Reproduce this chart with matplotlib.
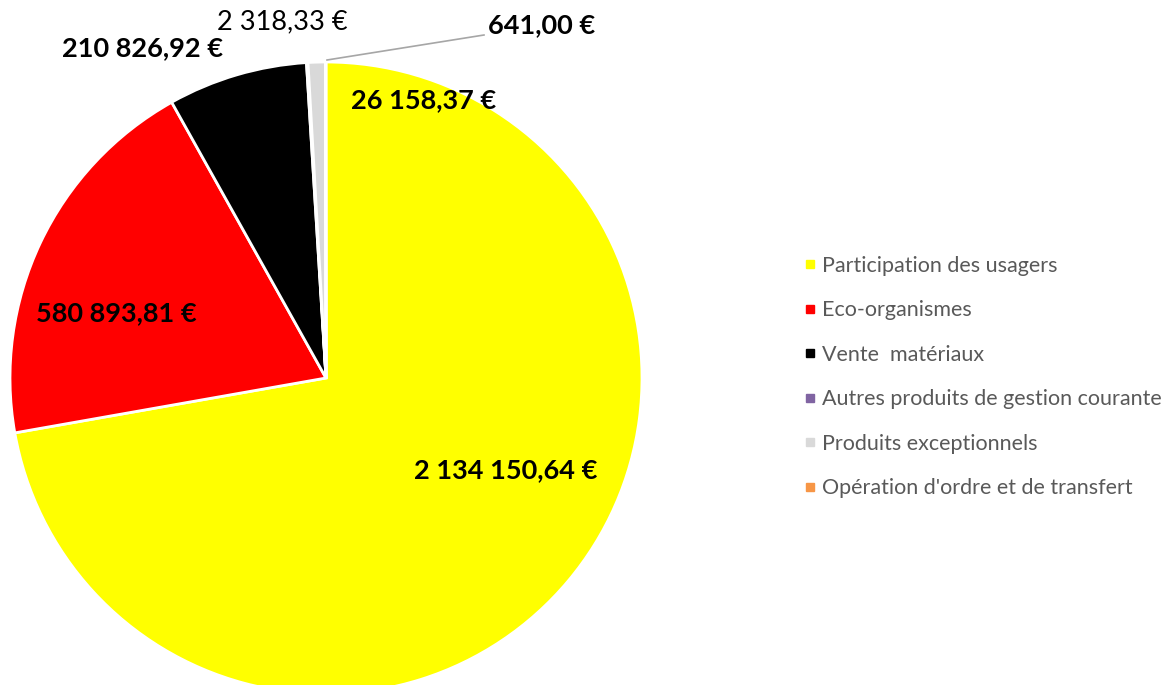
import matplotlib
matplotlib.use("Agg")
import matplotlib.pyplot as plt
from matplotlib.lines import Line2D

W, H = 1173, 685

categories = [
    "Participation des usagers",
    "Eco-organismes",
    "Vente  matériaux",
    "Autres produits de gestion courante",
    "Produits exceptionnels",
    "Opération d'ordre et de transfert",
]
values = [2134150.64, 580893.81, 210826.92, 2318.33, 26158.37, 641.00]
value_labels = ["2 134 150,64 €", "580 893,81 €", "210 826,92 €",
                "2 318,33 €", "26 158,37 €", "641,00 €"]
colors = ["#FFFF00", "#FF0000", "#000000", "#8064A2", "#D9D9D9", "#F79646"]

# label centres in pixels (x, y from top), as placed in the original
label_pos = [(506, 470), (116, 313), (142, 48), (282, 22), (424, 100), (542, 25)]
label_bold = [True, True, True, False, True, True]

plt.rcParams['font.family'] = ['Lato', 'DejaVu Sans']

fig = plt.figure(figsize=(W / 100, H / 100), dpi=100)

# pie: centre (326, 378) px, radius 316 px
cx, cy, r = 326, 378, 316
ax = fig.add_axes([(cx - r) / W, (H - cy - r) / H, 2 * r / W, 2 * r / H])
wedges, _ = ax.pie(values, colors=colors, startangle=90, counterclock=False,
                   radius=1, wedgeprops=dict(edgecolor="white", linewidth=2))
ax.set_xlim(-1, 1)
ax.set_ylim(-1, 1)
ax.axis("off")

for txt, (px, py), b in zip(value_labels, label_pos, label_bold):
    fig.text(px / W, 1 - py / H, txt, ha="center", va="center",
             fontsize=19.5, fontweight="bold" if b else "normal", color="black")

# leader line for the small slice
fig.add_artist(Line2D([327 / W, 484 / W], [1 - 60 / H, 1 - 35 / H],
                      color="#A6A6A6", linewidth=1.2))

handles = [Line2D([], [], marker="s", linestyle="", color=c, markersize=6)
           for c in colors]
leg = fig.legend(handles, categories, loc="center left",
                 bbox_to_anchor=(793 / W, 1 - 377 / H), frameon=False,
                 fontsize=15.5, labelspacing=1.14, handlelength=0.6,
                 handletextpad=0.25, borderpad=0)
for t in leg.get_texts():
    t.set_color("#595959")

fig.savefig("out.png", dpi=100)
